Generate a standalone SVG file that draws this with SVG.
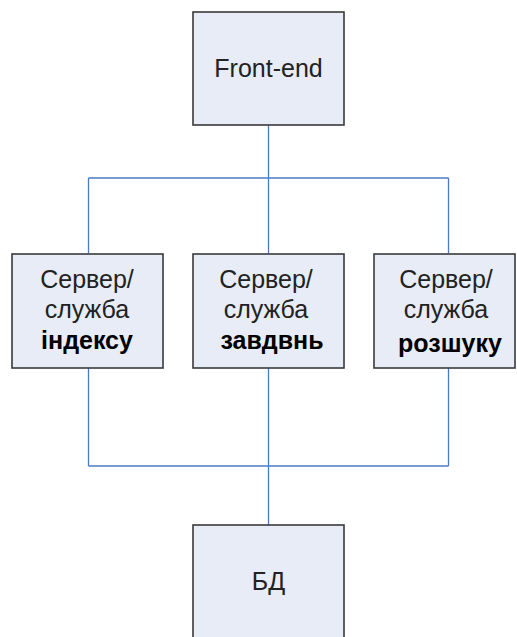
<svg xmlns="http://www.w3.org/2000/svg" width="517" height="637" viewBox="0 0 517 637">
<style>
.box{fill:#e7ecf6;stroke:#3a3a3a;stroke-width:1.6}
.t{font-family:"Liberation Sans",Arial,sans-serif;font-size:25px;fill:#222;text-anchor:middle}
.b{font-weight:bold;fill:#000}
.c{fill:none;stroke:#4a7cc4;stroke-width:1.3}
</style>
<rect width="517" height="637" fill="#fff"/>
<g id="connectors">
<path class="c" d="M268.5 125V178M88.5 178H448.5M88.5 178V253M268.5 178V253M448.5 178V253"/>
<path class="c" d="M88.5 368V466M268.5 368V525M448.5 368V466M88.5 466H448.5"/>
</g>
<g id="frontend">
<rect class="box" x="193" y="12" width="151" height="113"/>
<text class="t" x="268.5" y="77">Front-end</text>
</g>
<g id="index">
<rect class="box" x="12" y="254" width="151" height="114"/>
<text class="t" x="87" y="288">Сервер/</text>
<text class="t" x="87" y="318">служба</text>
<text class="t b" x="87" y="349">індексу</text>
</g>
<g id="tasks">
<rect class="box" x="193" y="254" width="151" height="114"/>
<text class="t" x="266" y="288">Сервер/</text>
<text class="t" x="266" y="318">служба</text>
<text class="t b" x="272" y="349">завдвнь</text>
</g>
<g id="search">
<rect class="box" x="374" y="254" width="141" height="114"/>
<text class="t" x="446" y="288">Сервер/</text>
<text class="t" x="446" y="318">служба</text>
<text class="t b" x="450" y="352">розшуку</text>
</g>
<g id="db">
<rect class="box" x="193" y="525" width="151" height="120"/>
<text class="t" x="268.5" y="590">БД</text>
</g>
</svg>
